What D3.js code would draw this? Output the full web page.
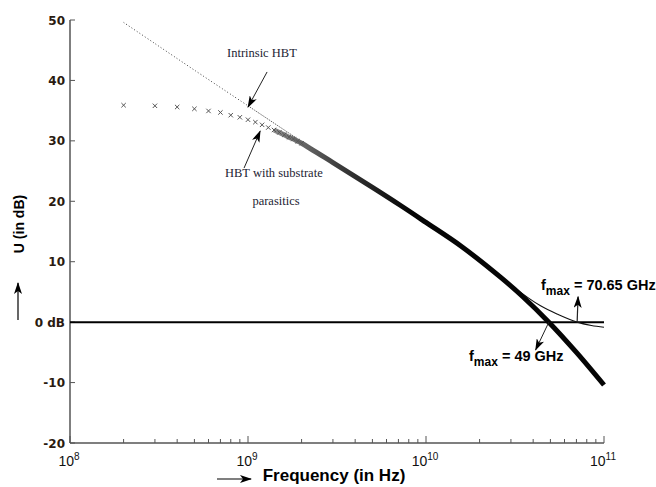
<!DOCTYPE html>
<html>
<head>
<meta charset="utf-8">
<script src="https://cdn.jsdelivr.net/npm/d3@7/dist/d3.min.js"></script>
<style>
  html, body { margin: 0; padding: 0; background: #fff; }
  svg { display: block; }
</style>
</head>
<body>
<svg id="chart" width="656" height="487"></svg>
<script>
// Unilateral power gain U versus frequency for an HBT

// Axis ticks
const xTickValues = [1e8, 1e9, 1e10, 1e11];
const xTickExponents = ["8", "9", "10", "11"];
const yTickValues = [-20, -10, 0, 10, 20, 30, 40, 50];
const yTickLabels = ["-20", "-10", "0 dB", "10", "20", "30", "40", "50"];

// Intrinsic HBT (Hz, dB)
const intrinsicFreq = [2e8, 3e8, 5e8, 1e9, 2e9, 3e9, 5e9, 7.2e9, 1e10, 1.57e10, 2.63e10, 3.1e10, 4.4e10, 5.6e10, 7.065e10, 8.5e10, 1e11];
const intrinsicU    = [49.6, 46.1, 41.7, 35.8, 29.9, 26.5, 22.3, 19.3, 16.5, 12.6, 7.5, 5.8, 2.7, 1.2, 0, -0.55, -0.85];

// HBT with substrate parasitics (Hz, dB)
const substrateFreq = [2e8, 3e8, 4e8, 5e8, 6e8, 7e8, 8e8, 9e8, 1e9, 1.1e9, 1.2e9, 1.3e9, 1.4e9, 1.5e9, 1.6e9, 1.7e9, 1.8e9, 1.9e9, 2e9,
                       3e9, 5e9, 7.2e9, 1e10, 1.57e10, 2.63e10, 3.5e10, 4.9e10, 7e10, 1e11];
const substrateU    = [35.9, 35.8, 35.6, 35.3, 34.95, 34.7, 34.25, 33.9, 33.5, 33.1, 32.65, 32.2, 31.8, 31.4, 31.0, 30.6, 30.3, 29.95, 29.6,
                       26.4, 22.3, 19.3, 16.5, 12.6, 7.4, 4.2, 0, -5.0, -10.4];

// Gain crossover frequencies
const fmaxIntrinsic = 70.65e9;
const fmaxSubstrate = 49e9;

const svg = d3.select("#chart");
const x = d3.scaleLog().domain([1e8, 1e11]).range([70, 604]);
const y = d3.scaleLinear().domain([-20, 50]).range([443, 20]);

const defs = svg.append("defs");
defs.append("marker")
  .attr("id", "head")
  .attr("viewBox", "0 0 12 8")
  .attr("refX", 11).attr("refY", 4)
  .attr("markerWidth", 12).attr("markerHeight", 8)
  .attr("markerUnits", "userSpaceOnUse")
  .attr("orient", "auto")
  .append("path")
  .attr("d", "M0,0 L12,4 L0,8 L3,4 Z")
  .attr("fill", "#000");

const grad = defs.append("linearGradient")
  .attr("id", "bandGrad")
  .attr("gradientUnits", "userSpaceOnUse")
  .attr("x1", x(1.4e9)).attr("x2", x(8e9)).attr("y1", 0).attr("y2", 0);
grad.append("stop").attr("offset", 0).attr("stop-color", "#8a8a8a");
grad.append("stop").attr("offset", 0.5).attr("stop-color", "#3a3a3a");
grad.append("stop").attr("offset", 1).attr("stop-color", "#050505");

// Axes
const axisColor = "#555";
const xMinor = x.ticks().filter(v => !xTickValues.includes(v));
const gx = svg.append("g").attr("transform", `translate(0,${y(-20)})`);
gx.append("line").attr("x1", x(1e8)).attr("x2", x(1e11)).attr("stroke", axisColor).attr("stroke-width", 1.5);
gx.selectAll("line.minor").data(xMinor).join("line")
  .attr("class", "minor")
  .attr("x1", d => x(d)).attr("x2", d => x(d))
  .attr("y1", 0).attr("y2", -4)
  .attr("stroke", axisColor).attr("stroke-width", 1);
gx.selectAll("line.major").data(xTickValues).join("line")
  .attr("class", "major")
  .attr("x1", d => x(d)).attr("x2", d => x(d))
  .attr("y1", 0).attr("y2", -7)
  .attr("stroke", axisColor).attr("stroke-width", 1);
const xl = gx.selectAll("text").data(xTickValues).join("text")
  .attr("x", d => x(d) - 1).attr("y", 23)
  .attr("font-family", "Liberation Sans, Arial, sans-serif")
  .attr("font-size", 14)
  .attr("fill", "#111")
  .attr("text-anchor", "middle");
xl.append("tspan").text("10");
xl.append("tspan").attr("dy", -6).attr("font-size", 10).text((d, i) => xTickExponents[i]);

const gy = svg.append("g").attr("transform", `translate(${x(1e8)},0)`);
gy.append("line").attr("y1", y(50)).attr("y2", y(-20)).attr("stroke", axisColor).attr("stroke-width", 1.5);
gy.selectAll("line.tick").data(yTickValues).join("line")
  .attr("class", "tick")
  .attr("x1", 0).attr("x2", 5)
  .attr("y1", d => y(d)).attr("y2", d => y(d))
  .attr("stroke", axisColor).attr("stroke-width", 1);
gy.selectAll("text").data(yTickValues).join("text")
  .attr("x", -5).attr("y", d => y(d) + 4.5)
  .attr("text-anchor", "end")
  .attr("font-family", "DejaVu Sans, Verdana, sans-serif")
  .attr("font-weight", "bold")
  .attr("font-size", 12)
  .attr("fill", "#2a1a10")
  .text((d, i) => yTickLabels[i]);

// 0 dB reference line
svg.append("line")
  .attr("x1", x(1e8)).attr("x2", x(1e11))
  .attr("y1", y(0)).attr("y2", y(0))
  .attr("stroke", "#000").attr("stroke-width", 2);

// Axis titles with direction arrows
svg.append("text")
  .attr("x", 334).attr("y", 481)
  .attr("text-anchor", "middle")
  .attr("font-family", "Liberation Sans, Arial, sans-serif")
  .attr("font-weight", "bold").attr("font-size", 17)
  .attr("fill", "#000")
  .text("Frequency (in Hz)");
svg.append("line")
  .attr("x1", 217).attr("x2", 251).attr("y1", 479).attr("y2", 479)
  .attr("stroke", "#000").attr("stroke-width", 1.2)
  .attr("marker-end", "url(#head)");

svg.append("text")
  .attr("transform", "translate(24,224) rotate(-90)")
  .attr("text-anchor", "middle")
  .attr("font-family", "Liberation Sans, Arial, sans-serif")
  .attr("font-weight", "bold").attr("font-size", 14)
  .attr("fill", "#000")
  .text("U (in dB)");
svg.append("line")
  .attr("x1", 18).attr("x2", 18).attr("y1", 320).attr("y2", 283)
  .attr("stroke", "#000").attr("stroke-width", 1.2)
  .attr("marker-end", "url(#head)");

// Curves
const line = d3.line()
  .x(d => x(d[0])).y(d => y(d[1]))
  .curve(d3.curveCatmullRom.alpha(0.5));

const intrinsic = intrinsicFreq.map((f, i) => [f, intrinsicU[i]]);
const substrate = substrateFreq.map((f, i) => [f, substrateU[i]]);

// dotted low-frequency part of the intrinsic curve
svg.append("path")
  .attr("d", line(intrinsic.filter(d => d[0] <= 1e9)))
  .attr("fill", "none").attr("stroke", "#444").attr("stroke-width", 1)
  .attr("stroke-dasharray", "1 2.2");
svg.append("path")
  .attr("d", line(intrinsic.filter(d => d[0] >= 1e9 && d[0] <= 3e9)))
  .attr("fill", "none").attr("stroke", "#666").attr("stroke-width", 1)
  .attr("stroke-dasharray", "1.5 1");
svg.append("path")
  .attr("d", line(intrinsic.filter(d => d[0] >= 3e9)))
  .attr("fill", "none").attr("stroke", "#111").attr("stroke-width", 1.1);

// dense marker band of the substrate curve
svg.append("path")
  .attr("d", line(substrate.filter(d => d[0] >= 1.4e9)))
  .attr("fill", "none").attr("stroke", "url(#bandGrad)").attr("stroke-width", 5);

// individual markers
const s = 2.2;
svg.append("g").selectAll("path").data(substrate.filter(d => d[0] <= 2e9)).join("path")
  .attr("transform", d => `translate(${x(d[0])},${y(d[1])})`)
  .attr("d", `M${-s},${-s}L${s},${s}M${-s},${s}L${s},${-s}`)
  .attr("stroke", "#555").attr("stroke-width", 1).attr("fill", "none");

// Annotations
const ann = svg.append("g");
function arrow(f1, u1, f2, u2, w) {
  ann.append("line")
    .attr("x1", x(f1)).attr("y1", y(u1))
    .attr("x2", x(f2)).attr("y2", y(u2))
    .attr("stroke", "#222").attr("stroke-width", w || 1)
    .attr("marker-end", "url(#head)");
}
arrow(1.28e9, 41.4, 1e9, 35.6);
arrow(9.5e8, 25.5, 1.17e9, 31.6);
arrow(fmaxIntrinsic, 0, 7.15e10, 4.2, 1.2);
arrow(fmaxSubstrate, 0, 4.13e10, -4.6, 1);

const serif = "Liberation Serif, 'Times New Roman', serif";
ann.append("text").attr("x", 227).attr("y", 57)
  .attr("font-family", serif).attr("font-size", 12.5).attr("fill", "#1d1d33")
  .text("Intrinsic HBT");
ann.append("text").attr("x", 225).attr("y", 177)
  .attr("font-family", serif).attr("font-size", 12.5).attr("fill", "#1d1d33")
  .text("HBT with substrate");
ann.append("text").attr("x", 276).attr("y", 205).attr("text-anchor", "middle")
  .attr("font-family", serif).attr("font-size", 12.5).attr("fill", "#1d1d33")
  .text("parasitics");

function fmaxLabel(px, py, value) {
  const t = ann.append("text").attr("x", px).attr("y", py)
    .attr("font-family", "Liberation Sans, Arial, sans-serif")
    .attr("font-weight", "bold").attr("font-size", 14.5).attr("fill", "#000");
  t.append("tspan").text("f");
  t.append("tspan").attr("dy", 5).attr("font-size", 12).text("max");
  t.append("tspan").attr("dy", -5).text(" = " + value);
}
fmaxLabel(541, 290, "70.65 GHz");
fmaxLabel(469, 361, "49 GHz");
</script>
</body>
</html>
